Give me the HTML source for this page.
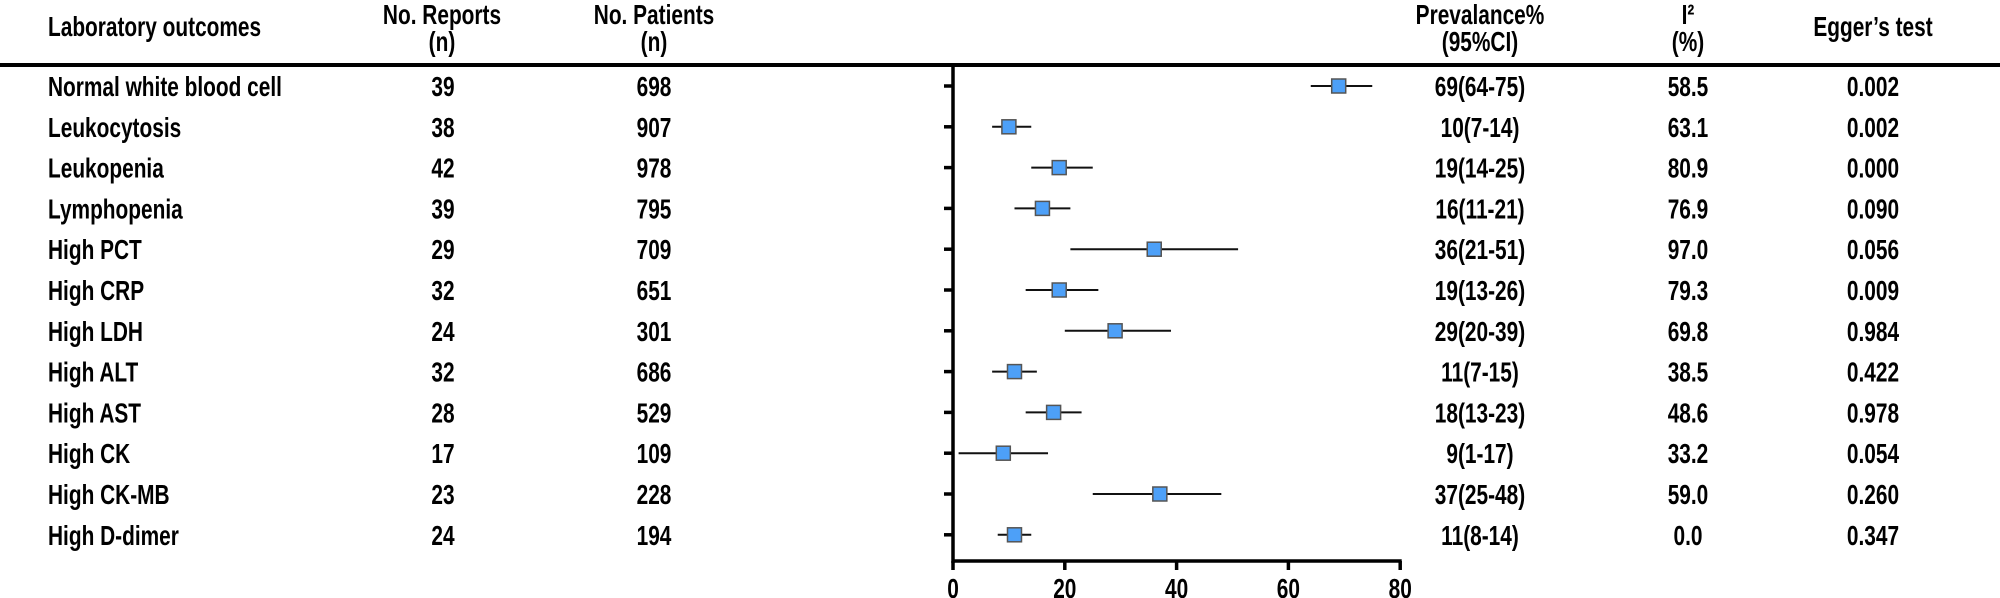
<!DOCTYPE html>
<html><head><meta charset="utf-8"><style>
html,body{margin:0;padding:0;background:#fff;}
svg{display:block;}
text{font-family:"Liberation Sans",Arial,sans-serif;font-weight:bold;font-size:28px;fill:#000;}
</style></head><body>
<svg id="chart" width="2000" height="598" viewBox="0 0 2000 598">
<line x1="0" y1="65" x2="2000" y2="65" stroke="#000" stroke-width="4"/>
<g id="cond" transform="scale(0.745,1)"></g>
<g id="plot"></g>
</svg>
<script>
const outcomes=["Normal white blood cell","Leukocytosis","Leukopenia","Lymphopenia","High PCT","High CRP","High LDH","High ALT","High AST","High CK","High CK-MB","High D-dimer"];
const reports=[39,38,42,39,29,32,24,32,28,17,23,24];
const patients=[698,907,978,795,709,651,301,686,529,109,228,194];
const prev=[69,10,19,16,36,19,29,11,18,9,37,11];
const lower=[64,7,14,11,21,13,20,7,13,1,25,8];
const upper=[75,14,25,21,51,26,39,15,23,17,48,14];
const i2=["58.5","63.1","80.9","76.9","97.0","79.3","69.8","38.5","48.6","33.2","59.0","0.0"];
const egger=["0.002","0.002","0.000","0.090","0.056","0.009","0.984","0.422","0.978","0.054","0.260","0.347"];
const xTicks=[0,20,40,60,80];

const NS="http://www.w3.org/2000/svg";
const SX=0.745;
const x0=953, ppu=5.59;
const xScale=v=>x0+v*ppu;
const yScale=i=>86+i*40.8;
const cond=document.getElementById('cond');
const plot=document.getElementById('plot');
function txt(x,y,s,anchor,name){
  const t=document.createElementNS(NS,'text');
  t.setAttribute('x',x/SX);t.setAttribute('y',y);
  t.setAttribute('text-anchor',anchor);
  t.textContent=s;
  
  
  cond.appendChild(t);return t;
}
function ln(x1,y1,x2,y2,w,c,name){
  const l=document.createElementNS(NS,'line');
  l.setAttribute('x1',x1);l.setAttribute('y1',y1);l.setAttribute('x2',x2);l.setAttribute('y2',y2);
  l.setAttribute('stroke',c);l.setAttribute('stroke-width',w);
  
  
  plot.appendChild(l);return l;
}
// headers
txt(48,36,"Laboratory outcomes","start","header-outcomes");
txt(442,24,"No. Reports","middle","header-reports");
txt(442,51,"(n)","middle","header-reports-unit");
txt(654,24,"No. Patients","middle","header-patients");
txt(654,51,"(n)","middle","header-patients-unit");
txt(1480,24,"Prevalance%","middle","header-prevalence");
txt(1480,51,"(95%CI)","middle","header-prevalence-ci");
txt(1688,24,"I²","middle","header-i2");
txt(1688,51,"(%)","middle","header-i2-unit");
txt(1873,36,"Egger’s test","middle","header-egger");
// axes
ln(x0,65,x0,563,3.5,"#000","y-axis");
ln(x0-1.5,561,xScale(80)+1.5,561,3.5,"#000","x-axis");
xTicks.forEach(v=>{
  ln(xScale(v),561,xScale(v),570,3.5,"#000","x-tick");
  txt(xScale(v),598,String(v),"middle","x-tick-label");
});
outcomes.forEach((o,i)=>{
  const y=yScale(i);
  txt(48,y+10,o,"start","outcome-label");
  txt(443,y+10,String(reports[i]),"middle","reports-value");
  txt(654,y+10,String(patients[i]),"middle","patients-value");
  txt(1480,y+10,prev[i]+"("+lower[i]+"-"+upper[i]+")","middle","prevalence-value");
  txt(1688,y+10,i2[i],"middle","i2-value");
  txt(1873,y+10,egger[i],"middle","egger-value");
  ln(x0-9,y,x0,y,3.5,"#000","y-tick");
  ln(xScale(lower[i]),y,xScale(upper[i]),y,2,"#111","ci-line");
  const r=document.createElementNS(NS,'rect');
  r.setAttribute('x',xScale(prev[i])-7);r.setAttribute('y',y-7);
  r.setAttribute('width',14);r.setAttribute('height',14);
  r.setAttribute('fill','#4da0f8');r.setAttribute('stroke','#555');r.setAttribute('stroke-width',1.5);
  
  
  plot.appendChild(r);
});
</script>
</body></html>
